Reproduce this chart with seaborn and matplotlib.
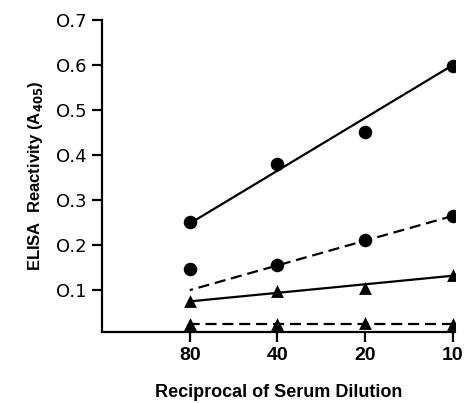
import matplotlib
matplotlib.use("Agg")
import matplotlib.pyplot as plt
import seaborn as sns
import pandas as pd
from matplotlib import font_manager

sns.set_style("ticks", {"axes.edgecolor": "black", "text.color": "black",
                        "axes.labelcolor": "black", "xtick.color": "black",
                        "ytick.color": "black"})
names = {f.name for f in font_manager.fontManager.ttflist}
narrow = "Liberation Sans Narrow" if "Liberation Sans Narrow" in names else "Liberation Sans"
plt.rcParams['font.family'] = [narrow, 'DejaVu Sans']

# Data
dilution = [80, 40, 20, 10]
circle_solid = [0.252, 0.381, 0.452, 0.598]
circle_dashed = [0.146, 0.155, 0.211, 0.265]
tri_solid = [0.076, 0.097, 0.104, 0.133]
tri_dashed = [0.025, 0.024, 0.027, 0.025]

# Fitted lines (endpoints at 80 and 10)
fit_x = [80, 10]
fit_circle_solid = [0.248, 0.600]
fit_circle_dashed = [0.100, 0.265]
fit_tri_solid = [0.075, 0.132]
fit_tri_dashed = [0.025, 0.025]

yticks = [0.1, 0.2, 0.3, 0.4, 0.5, 0.6, 0.7]
ytick_labels = ["O.1", "O.2", "O.3", "O.4", "O.5", "O.6", "O.7"]

fig = plt.figure(figsize=(4.70, 4.03), dpi=100)
ax = fig.add_axes([102/470, 1-332/403, (455-102)/470, (332-20)/403])

series = [
    (circle_solid, fit_circle_solid, "o", "-"),
    (circle_dashed, fit_circle_dashed, "o", (0, (5, 2.6))),
    (tri_solid, fit_tri_solid, "^", "-"),
    (tri_dashed, fit_tri_dashed, "^", (0, (5, 2.6))),
]
for vals, fit, mk, ls in series:
    df = pd.DataFrame({"x": dilution, "y": vals})
    sns.scatterplot(data=df, x="x", y="y", marker=mk, s=95 if mk == "o" else 85,
                    color="black", edgecolor="black", linewidth=0, ax=ax, zorder=3)
    fdf = pd.DataFrame({"x": fit_x, "y": fit})
    sns.lineplot(data=fdf, x="x", y="y", color="black", linewidth=1.6, ax=ax)
    ax.lines[-1].set_linestyle(ls)

ax.set_xscale("log", base=2)
ax.set_xlim(160, 9.84)
ax.set_ylim(0.007, 0.7)
ax.set_xticks(dilution)
ax.set_xticklabels([str(d) for d in dilution], fontsize=14, fontweight="bold")
ax.minorticks_off()
ax.set_yticks(yticks)
ax.set_yticklabels(ytick_labels, fontsize=13, family="DejaVu Sans")
for sp in ["top", "right"]:
    ax.spines[sp].set_visible(False)
for sp in ["left", "bottom"]:
    ax.spines[sp].set_linewidth(1.6)
    ax.spines[sp].set_color("black")
ax.tick_params(axis="both", direction="out", length=7, width=1.6, colors="black", pad=4)
ax.set_xlabel("Reciprocal of Serum Dilution", fontsize=13, fontweight="bold",
              labelpad=14, color="black")
ax.set_ylabel(r"ELISA  Reactivity (A$_{\mathbf{405}}$)", fontsize=12, fontweight="bold",
              labelpad=8, color="black")

fig.savefig("out.png", dpi=100)
